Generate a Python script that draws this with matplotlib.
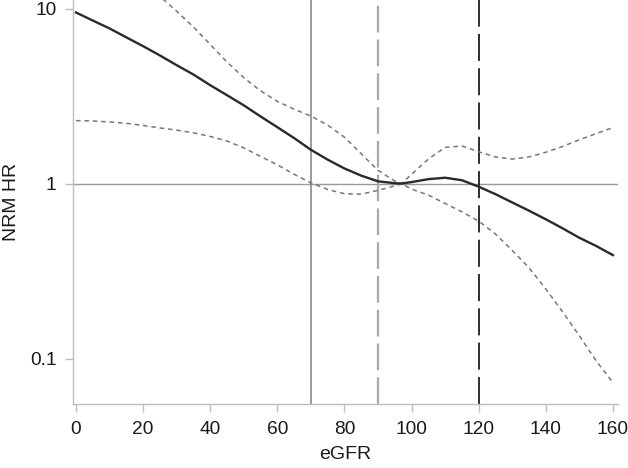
import numpy as np
import matplotlib
matplotlib.use("Agg")
from matplotlib import pyplot as plt

# valores (eGFR x HR)
egfr = [0, 5, 10, 15, 20, 25, 30, 35, 40, 45, 50, 55, 60, 65, 70, 75, 80, 85, 90, 95, 97,
        100, 105, 110, 115, 120, 125, 130, 135, 140, 145, 150, 155, 160]

hr = [9.5, 8.55, 7.7, 6.85, 6.1, 5.4, 4.75, 4.2, 3.65, 3.2, 2.8, 2.42, 2.1, 1.82, 1.56,
      1.37, 1.22, 1.11, 1.03, 1.005, 1.0, 1.02, 1.06, 1.08, 1.045, 0.96, 0.87, 0.78,
      0.70, 0.625, 0.555, 0.49, 0.44, 0.39]

ci_upper = [np.nan, np.nan, np.nan, np.nan, np.nan, 11.75, 9.66, 7.85, 6.24, 4.95, 4.03,
            3.39, 2.95, 2.66, 2.43, 2.16, 1.84, 1.48, 1.19, 1.035, 1.0, 1.13, 1.38, 1.61,
            1.64, 1.52, 1.42, 1.38, 1.42, 1.51, 1.63, 1.78, 1.93, 2.09]

ci_lower = [2.29, 2.28, 2.25, 2.21, 2.15, 2.08, 2.02, 1.95, 1.86, 1.75, 1.60, 1.43, 1.28,
            1.13, 1.01, 0.925, 0.875, 0.87, 0.915, 0.97, 1.0, 0.93, 0.86, 0.77, 0.69,
            0.61, 0.515, 0.415, 0.33, 0.25, 0.185, 0.135, 0.097, 0.073]

# linhas de referencia
cut_solid = 70
cut_light = 90
cut_dark = 120

plt.rcParams["font.family"] = ["Liberation Sans", "DejaVu Sans"]

fig = plt.figure(figsize=(6.28, 4.68), dpi=100)
ax = fig.add_axes([0.1162, 0.1368, 0.8678, 0.8632])

ax.axhline(1, color="#9a9a9a", lw=1.0, zorder=1)
ax.axvline(cut_solid, color="#8a8a8a", lw=1.2, zorder=1)
ax.axvline(cut_light, color="#a8a8a8", lw=1.6, dashes=(12, 3.2), zorder=1)
ax.axvline(cut_dark, color="#1e1e1e", lw=1.3, dashes=(15, 4), zorder=1)

ax.plot(egfr, ci_upper, color="#777777", lw=1.1, dashes=(3, 2.5), zorder=2)
ax.plot(egfr, ci_lower, color="#777777", lw=1.1, dashes=(3, 2.5), zorder=2)
ax.plot(egfr, hr, color="#2a2a2a", lw=1.7, zorder=3)

ax.set_yscale("log")
ax.set_xlim(-0.9, 161.5)
ax.set_ylim(0.055, 11.2)

ax.set_yticks([0.1, 1, 10])
ax.set_yticklabels(["0.1", "1", "10"])
ax.yaxis.set_minor_locator(matplotlib.ticker.NullLocator())
ax.set_xticks(range(0, 161, 20))

for s in ["top", "right"]:
    ax.spines[s].set_visible(False)
for s in ["left", "bottom"]:
    ax.spines[s].set_color("#bdbdbd")
    ax.spines[s].set_linewidth(1.0)

ax.tick_params(axis="both", colors="#bdbdbd", labelcolor="#1a1a1a",
               labelsize=13.8, length=6, width=1.0, pad=6)

ax.set_xlabel("eGFR", fontsize=14, color="#1a1a1a", labelpad=6)
ax.set_ylabel("NRM HR", fontsize=14, color="#1a1a1a", labelpad=7)

fig.savefig("out.png", dpi=100)
